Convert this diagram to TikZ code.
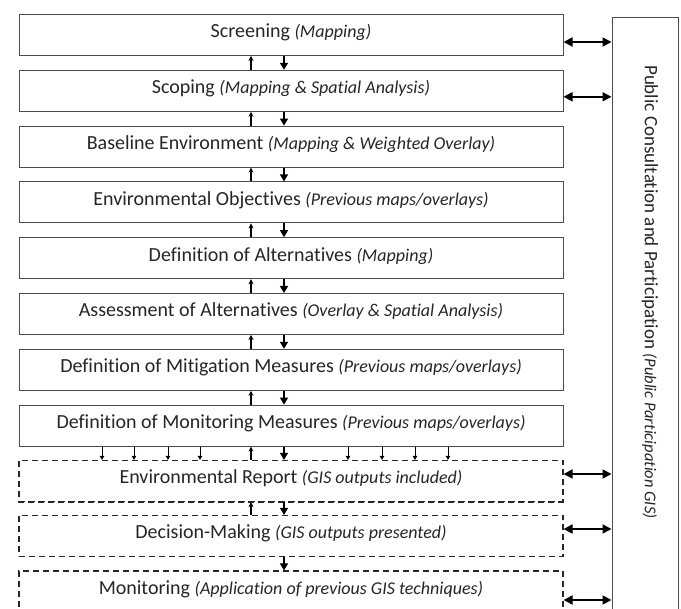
\documentclass[tikz,border=0pt]{standalone}
\usepackage{fontspec}
\setmainfont[Ligatures=NoCommon]{Carlito}
\usetikzlibrary{arrows.meta,calc}
\newcommand\gisnote[1]{{\fontsize{18}{20}\selectfont\itshape #1}}
\newcommand\gispanel[1]{{\fontsize{16.5}{20}\selectfont\itshape #1}}
\begin{document}
\begin{tikzpicture}[x=1pt,y=-1pt,
  txt/.style={font=\fontsize{20}{24}\selectfont, text=black!85},
  solidbox/.style={draw=black!70, line width=1pt, minimum width=544pt, minimum height=41pt, inner sep=0pt, txt, text height=14pt, text depth=8pt},
  dashbox/.style={solidbox, draw=black!85, line width=1.2pt, dash pattern=on 6pt off 4pt},
  uparr/.style={-{Stealth[length=5pt,width=5pt]}, line width=1.7pt, black},
  downarr/.style={-{Triangle[length=7pt,width=8pt]}, line width=1.3pt, black},
  smallarr/.style={-{Triangle[length=4pt,width=4.5pt]}, line width=1pt, black},
  sidearr/.style={{Triangle[length=9pt,width=9pt]}-{Triangle[length=9pt,width=9pt]}, line width=1.8pt, black},
]
\useasboundingbox (0,0) rectangle (681,609);
\clip (0,0) rectangle (681,609);
\fill[white] (0,0) rectangle (681,609);

% solid boxes
\node[solidbox] (s1) at (291,35)    {Screening \gisnote{(Mapping)}};
\node[solidbox] (s2) at (291,90.8)  {Scoping \gisnote{(Mapping \& Spatial Analysis)}};
\node[solidbox] (s3) at (291,146.6) {Baseline Environment \gisnote{(Mapping \& Weighted Overlay)}};
\node[solidbox] (s4) at (291,202.4) {Environmental Objectives \gisnote{(Previous maps/overlays)}};
\node[solidbox] (s5) at (291,258.2) {Definition of Alternatives \gisnote{(Mapping)}};
\node[solidbox] (s6) at (291,314)   {Assessment of Alternatives \gisnote{(Overlay \& Spatial Analysis)}};
\node[solidbox] (s7) at (291,369.8) {Definition of Mitigation Measures \gisnote{(Previous maps/overlays)}};
\node[solidbox] (s8) at (291,425.6) {Definition of Monitoring Measures \gisnote{(Previous maps/overlays)}};

% dashed boxes
\node[dashbox] (d1) at (291,481) {Environmental Report \gisnote{(GIS outputs included)}};
\draw[line width=2.4pt, dash pattern=on 6pt off 4pt, black!85] (d1.south west) -- (d1.south east);
\node[dashbox] (d2) at (291,536) {Decision-Making \gisnote{(GIS outputs presented)}};
\node[dashbox, minimum height=42pt] (d3) at (291,592) {Monitoring \gisnote{(Application of previous GIS techniques)}};

% right panel
\node[draw=black!70, line width=1pt, minimum width=66pt, minimum height=622pt, inner sep=0pt] (p) at (645,329) {};
\node[font=\fontsize{19}{23}\selectfont, text=black!85, rotate=-90, anchor=west, inner sep=0pt] (pt) at (650,65)
  {Public Consultation and Participation \gispanel{(Public Participation GIS)}};

% column coordinates
\coordinate (xu) at (251,0);
\coordinate (xd) at (284,0);

% vertical arrows between boxes
\foreach \a/\b in {s1/s2,s2/s3,s3/s4,s4/s5,s5/s6,s6/s7,s7/s8,s8/d1,d1/d2}{
  \draw[uparr] (\b.north -| xu) -- (\a.south -| xu);
  \draw[downarr] (\a.south -| xd) -- (\b.north -| xd);
}
\draw[downarr] (d2.south -| xd) -- (d3.north -| xd);

% small arrows from monitoring measures to environmental report
\foreach \x [count=\i] in {102,134,168,200,348,382,415,448}{
  \coordinate (xs\i) at (\x,0);
  \draw[smallarr] (s8.south -| xs\i) -- (d1.north -| xs\i);
}

% side arrows
\coordinate (a1) at ([yshift=-7pt]s1.east);
\coordinate (a2) at ([yshift=-6pt]s2.east);
\coordinate (a3) at ([yshift=7pt]d1.east);
\coordinate (a4) at ([yshift=7pt]d2.east);
\coordinate (a5) at ([yshift=-8pt]d3.east);
\foreach \c in {a1,a2,a3,a4,a5}{
  \draw[sidearr] (\c) -- (\c -| p.west);
}
\end{tikzpicture}
\end{document}
